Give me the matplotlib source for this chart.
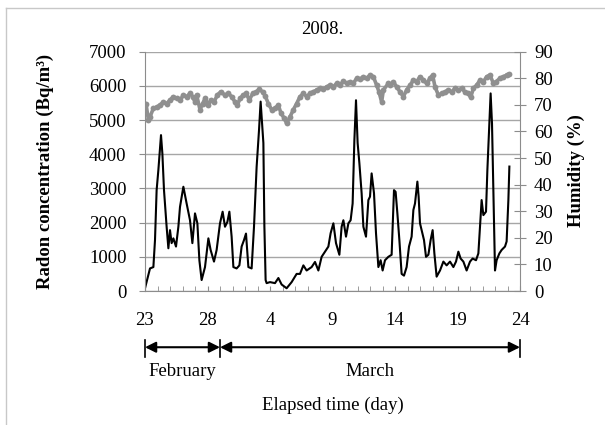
import matplotlib
matplotlib.use('Agg')
import matplotlib.pyplot as plt
import matplotlib.transforms as mtransforms
from matplotlib.lines import Line2D

plt.rcParams['font.family'] = ['Liberation Serif', 'DejaVu Serif']
plt.rcParams['font.size'] = 13.5

# elapsed days counted from 23 Feb 2008
radon_day = [0.0, 0.4, 0.67, 0.8, 0.93, 1.07, 1.28, 1.39, 1.52, 1.73, 1.87, 2.0, 2.13, 2.27,
             2.48, 2.67, 2.8, 3.07, 3.33, 3.6, 3.79, 4.0, 4.19, 4.35, 4.53, 4.8, 5.07, 5.25,
             5.52, 5.73, 6.0, 6.21, 6.4, 6.59, 6.75, 6.93, 7.07, 7.33, 7.55, 7.73, 7.92, 8.08,
             8.27, 8.53, 8.72, 8.93, 9.12, 9.25, 9.47, 9.55, 9.65, 9.73, 10.0, 10.4, 10.67,
             10.93, 11.33, 11.73, 12.13, 12.4, 12.67, 12.93, 13.33, 13.6, 13.87, 14.13, 14.4,
             14.67, 14.85, 15.07, 15.28, 15.55, 15.73, 15.87, 16.08, 16.27, 16.45, 16.61,
             16.75, 16.88, 17.01, 17.15, 17.33, 17.47, 17.68, 17.87, 18.0, 18.13, 18.32,
             18.48, 18.67, 18.85, 19.01, 19.2, 19.47, 19.73, 19.92, 20.05, 20.19, 20.35,
             20.53, 20.72, 20.93, 21.12, 21.33, 21.47, 21.6, 21.79, 21.89, 22.0, 22.13,
             22.32, 22.48, 22.67, 22.85, 23.01, 23.15, 23.33, 23.6, 23.87, 24.13, 24.4,
             24.67, 24.88, 25.07, 25.25, 25.47, 25.73, 26.0, 26.21, 26.48, 26.67, 26.8,
             26.93, 27.07, 27.28, 27.39, 27.49, 27.65, 27.76, 27.87, 28.0, 28.13, 28.35,
             28.53, 28.8, 28.93, 29.07, 29.15]
radon_bq = [80, 660, 700, 1490, 2950, 3540, 4560, 4020, 2950, 1880, 1250, 1780, 1400, 1540,
            1300, 1880, 2460, 3050, 2560, 2070, 1400, 2270, 1980, 900, 320, 700, 1540, 1200,
            860, 1200, 1980, 2320, 1880, 2020, 2320, 1590, 700, 660, 750, 1300, 1490, 1680,
            700, 660, 1880, 3630, 4700, 5540, 4330, 1900, 320, 230, 260, 230, 380,
            190, 80, 260, 500, 500, 750, 600, 700, 850, 600, 1000, 1150,
            1300, 1690, 1980, 1400, 1060, 1880, 2070, 1590, 1980, 2070, 2560,
            4410, 5580, 4330, 3740, 2860, 1880, 1590, 2660, 2760, 3440, 2860,
            1690, 700, 900, 600, 900, 1000, 1060, 2950, 2900, 2270, 1490,
            500, 450, 700, 1300, 1590, 2370, 2560, 3200, 2760, 1980, 1780,
            1490, 1000, 1060, 1490, 1780, 1100, 420, 600, 860, 750, 860,
            700, 860, 1150, 950, 860, 600, 860, 950, 900, 1100, 1880,
            2660, 2220, 2320, 3540, 4410, 5780, 4900, 2950, 600, 900, 1100,
            1200, 1300, 1450, 2660, 3640]

hum_day = [0.08, 0.27, 0.4, 0.67, 0.93, 1.2, 1.47, 1.73, 2.0, 2.27, 2.53, 2.8, 3.07, 3.33,
           3.6, 3.81, 4.0, 4.13, 4.4, 4.61, 4.8, 5.07, 5.25, 5.52, 5.79, 6.05, 6.4, 6.67,
           6.93, 7.2, 7.39, 7.6, 7.87, 8.08, 8.35, 8.61, 8.88, 9.15, 9.41, 9.6, 9.87, 10.13,
           10.4, 10.67, 10.88, 11.15, 11.33, 11.6, 11.87, 12.13, 12.4, 12.67, 12.93, 13.2,
           13.47, 13.73, 14.0, 14.27, 14.53, 14.8, 15.07, 15.33, 15.6, 15.87, 16.13, 16.4,
           16.67, 16.93, 17.2, 17.47, 17.73, 18.0, 18.27, 18.53, 18.72, 18.93, 19.07, 19.47,
           19.6, 19.87, 20.13, 20.4, 20.67, 20.93, 21.2, 21.47, 21.73, 22.0, 22.27, 22.53,
           22.8, 23.01, 23.2, 23.47, 23.73, 24.0, 24.27, 24.53, 24.8, 25.07, 25.33, 25.6,
           25.87, 26.05, 26.27, 26.53, 26.8, 27.07, 27.33, 27.6, 27.87, 28.08, 28.4, 28.67,
           28.93, 29.15]
hum_pct = [70.5, 64.3, 65.5, 68.7, 69.2, 69.9, 71.1, 70.5, 71.8, 73.1, 72.4, 71.8, 73.7, 73.1,
           74.3, 73.1, 71.1, 73.7, 68.2, 70.5, 72.4, 69.9, 71.8, 71.1, 73.7, 74.9, 73.7, 74.3,
           73.1, 71.1, 69.9, 72.4, 73.7, 74.3, 71.8, 74.3, 74.9, 75.8, 74.9, 73.5, 70.5, 68.2,
           68.7, 69.9, 66.8, 64.9, 63.0, 65.5, 68.2, 70.5, 73.1, 74.3, 73.1, 74.3,
           74.9, 75.6, 76.2, 75.8, 76.8, 77.4, 76.8, 78.1, 77.4, 79.0, 78.1, 78.7,
           78.1, 80.0, 79.6, 80.6, 80.0, 81.2, 80.6, 77.4, 74.9, 71.1, 75.6, 78.1,
           77.4, 78.7, 76.8, 74.9, 73.1, 75.6, 77.4, 79.3, 78.7, 80.6, 79.3, 78.1,
           80.0, 81.2, 76.8, 73.7, 74.3, 74.9, 75.6, 74.9, 76.2, 75.6, 76.2, 74.9,
           74.3, 72.8, 76.2, 77.4, 79.3, 78.7, 80.6, 81.2, 78.1, 78.7, 80.0, 80.6,
           81.2, 81.6]

tick_days = [0, 5, 10, 15, 20, 25, 30]
tick_labels = ['23', '28', '4', '9', '14', '19', '24']
month_edges = [0, 6, 30]
month_names = ['February', 'March']

GRID = '#a6a6a6'
AXIS = '#8c8c8c'
HUM = '#8f8f8f'

fig = plt.figure(figsize=(6.05, 4.25), dpi=100)
ax = fig.add_axes([145 / 605, 1 - 291 / 425, 375 / 605, (291 - 51.7) / 425])
ax2 = ax.twinx()

ax.plot(radon_day, radon_bq, color='black', lw=1.5)
ax2.plot(hum_day, hum_pct, ls='-', lw=2.6, marker='o', ms=4.2, color=HUM, mec='none',
         solid_capstyle='round', solid_joinstyle='round')

ax.set_xlim(0, 30)
ax.set_ylim(0, 7000)
ax2.set_ylim(0, 90)
ax.set_yticks(range(0, 7001, 1000))
ax2.set_yticks(range(0, 91, 10))
ax.set_xticks(tick_days)
ax.set_xticklabels(tick_labels)
ax.set_xticks(range(0, 31), minor=True)
ax.yaxis.grid(True, color=GRID, lw=1.0)
ax.set_axisbelow(True)

for s in ['top', 'right']:
    ax.spines[s].set_visible(False)
for s in ['top', 'left', 'bottom']:
    ax2.spines[s].set_visible(False)
ax.spines['left'].set_color(AXIS)
ax.spines['bottom'].set_color(AXIS)
ax2.spines['right'].set_color(AXIS)

ax.tick_params(axis='y', direction='out', length=4.3, color=AXIS, pad=9)
ax.tick_params(axis='x', which='both', direction='in', length=3.5, color=AXIS, pad=15)
ax2.tick_params(axis='y', direction='inout', length=8.6, color=AXIS, pad=5.7)

fig.text(322 / 605, 1 - 30 / 425, '2008.', ha='center', va='center')
fig.text(45 / 605, 1 - 171 / 425, 'Radon concentration (Bq/m³)', rotation=90,
         ha='center', va='center', fontweight='bold')
fig.text(576 / 605, 1 - 171 / 425, 'Humidity (%)', rotation=90,
         ha='center', va='center', fontweight='bold')

# month arrows below the day axis
trans = mtransforms.blended_transform_factory(ax.transData, ax.transAxes)
ya = -0.235
for i, name in enumerate(month_names):
    a, b = month_edges[i], month_edges[i + 1]
    ax.annotate('', xy=(b, ya), xytext=(a, ya), xycoords=trans, textcoords=trans,
                arrowprops=dict(arrowstyle='<|-|>', color='black', lw=1.5,
                                mutation_scale=16, shrinkA=0, shrinkB=0),
                annotation_clip=False)
    ax.text((a + b) / 2, -0.338, name, transform=trans, ha='center', va='center')
for e in month_edges:
    ax.plot([e, e], [-0.205, -0.276], transform=trans, color='black', lw=1.2, clip_on=False)

ax.text(0.5, -0.476, 'Elapsed time (day)', transform=ax.transAxes, ha='center', va='center')

# faint frame round the chart area
fig.add_artist(Line2D([6 / 605, 6 / 605], [0, 1 - 8 / 425], transform=fig.transFigure,
                      color='#c8c8c8', lw=1))
fig.add_artist(Line2D([6 / 605, 1], [1 - 8 / 425, 1 - 8 / 425], transform=fig.transFigure,
                      color='#c8c8c8', lw=1))

fig.savefig('out.png', dpi=100)
plt.close(fig)
